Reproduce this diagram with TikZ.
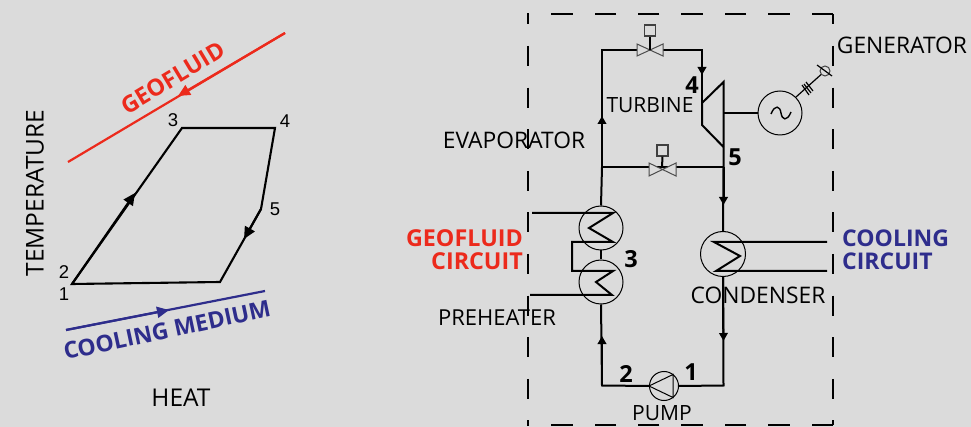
\documentclass[tikz,border=0pt]{standalone}
\usepackage{fontspec}
\setmainfont{Open Sans}
\newfontfamily\numfont{Liberation Sans}
\usetikzlibrary{arrows.meta}
\definecolor{bg}{HTML}{DBDBDB}
\definecolor{geored}{HTML}{EC2A1C}
\definecolor{coolblue}{HTML}{2E2D8C}
\tikzset{
  lbl/.style={inner sep=0pt,font=\fontsize{22.8}{23}\selectfont,text=black},
  lblbig/.style={inner sep=0pt,font=\fontsize{24.5}{25}\selectfont,text=black},
  num/.style={inner sep=0pt,font=\fontsize{18.5}{19}\selectfont\numfont,text=black},
  bnum/.style={inner sep=0pt,font=\fontsize{23.5}{24}\selectfont\bfseries,text=black},
  redt/.style={inner sep=0pt,font=\fontsize{23.3}{24}\selectfont\bfseries,text=geored},
  bluet/.style={inner sep=0pt,font=\fontsize{23}{24}\selectfont\bfseries,text=coolblue},
  cyc/.style={line width=2.1pt,line join=miter},
  pipe/.style={line width=2pt},
  thin1/.style={line width=1.2pt},
  hx/.style={circle,draw=black,line width=1pt,minimum size=44pt,inner sep=0pt,fill=bg},
  tip/.style={-{Triangle[length=8pt,width=8.5pt]}},
  bigtip/.style={-{Triangle[length=12pt,width=11pt]}},
  boxd/.style={line width=1.8pt},
  vbox/.style={draw=black!75,line width=1.1pt,minimum size=11pt,inner sep=0pt,fill=bg},
  vtri/.style={draw=black!70,line width=1pt,fill=bg},
}
\begin{document}
\begin{tikzpicture}[x=1pt,y=-1pt]
\fill[bg] (0,0) rectangle (971,427);
\useasboundingbox (0,0) rectangle (971,427);

% --- T-Q diagram
\coordinate (c1) at (72,284);
\coordinate (c3) at (182,128);
\coordinate (c4) at (275,128);
\coordinate (c5) at (261,209);
\coordinate (c6) at (220,282);
\coordinate (ca) at (135,193);
\coordinate (cb) at (244,239);
\draw[cyc] (c1) -- (c3) -- (c4) -- (c5) -- (c6) -- cycle;
\draw[cyc,bigtip] (c1) -- (ca);
\draw[cyc,bigtip] (c5) -- (cb);
\coordinate (r1) at (285,33);
\coordinate (r2) at (68,162);
\coordinate (ra) at (178,96);
\draw[line width=2.2pt,geored] (r1) -- (r2);
\draw[line width=2.2pt,geored,bigtip] (r1) -- (ra);
\coordinate (b1) at (66,330);
\coordinate (b2) at (265,291);
\coordinate (ba) at (169,310);
\draw[line width=2.2pt,coolblue] (b1) -- (b2);
\draw[line width=2.2pt,coolblue,bigtip] (b1) -- (ba);
\node[redt,rotate=31] (lgeo) at (173,78) {GEOFLUID};
\node[bluet,rotate=12] (lcm) at (167,330) {COOLING MEDIUM};
\node[lblbig,rotate=90] (ltemp) at (35,193) {TEMPERATURE};
\node[lblbig] (lheat) at (181,398) {HEAT};
\node[num] (n3) at (173,120) {3};
\node[num] (n4) at (285,121) {4};
\node[num] (n5) at (275,209) {5};
\node[num] (n2) at (64,272) {2};
\node[num] (n1) at (64,294) {1};

% --- dashed system boundary
\draw[boxd,dash pattern=on 21.5pt off 21.9pt] (833,14) -- (527,14);
\draw[boxd] (833,14) -- (833,24);
\draw[boxd,dash pattern=on 20pt off 21.6pt] (833,46) -- (833,425);
\draw[boxd,dash pattern=on 21.5pt off 21.9pt] (833,425) -- (527,425);
\draw[boxd,dash pattern=on 20pt off 21.6pt] (528,46) -- (528,425);
\draw[boxd] (528,14) -- (528,24);

% --- components
\node[hx] (evap) at (601,228) {};
\node[hx] (preh) at (601,282) {};
\node[hx,minimum size=45pt] (cond) at (723,254) {};
\node[hx] (gen) at (780,113) {};
\node[hx,minimum size=29pt] (pump) at (664,386) {};
\node[vbox] (box1) at (650,30.5) {};
\node[vbox] (box2) at (662.5,150.5) {};
\coordinate (v1) at (650,50);
\coordinate (v2) at (662,167);
\coordinate (tl) at (702,103);
\coordinate (tb) at (702,125);
\coordinate (tr) at (723.5,82);
\coordinate (tq) at (723.5,147);
\coordinate (ptl) at (602,50);
\coordinate (ptr) at (702,50);
\coordinate (pj1) at (602,167);
\coordinate (pj2) at (723.5,167);
\coordinate (pbl) at (602,385.5);
\coordinate (pbr) at (723.5,385.5);
\coordinate (a1) at (702,75);
\coordinate (a2) at (602,116);
\coordinate (a3) at (723.5,205);
\coordinate (a4) at (723.5,341);
\coordinate (a5) at (602,336);

% pipes
\draw[pipe] (pj1) -- (ptl) -- (ptr) -- (tl);
\draw[pipe,tip] (ptr) -- (a1);
\draw[pipe,tip] (pj1) -- (a2);
\draw[pipe] (pj1) -- (pj2);
\draw[pipe] (evap.north) -- (pj1);
\draw[pipe] (tq) -- (pj2) -- (cond.north);
\draw[pipe,tip] (pj2) -- (a3);
\draw[pipe] (cond.south) -- (pbr) -- (pump.east);
\draw[pipe,tip] (cond.south) -- (a4);
\draw[pipe] (pump.west) -- (pbl) -- (preh.south);
\draw[pipe,tip] (pbl) -- (a5);
\draw[pipe] (evap.south) -- (preh.north);
% valves
\draw[vtri] (637,44) -- (663,56) -- (663,44) -- (637,56) -- cycle;
\draw[vtri] (649,163) -- (676,176) -- (676,163) -- (649,176) -- cycle;
\draw[pipe] (box1.south) -- (v1);
\draw[pipe] (box2.south) -- (v2);
% turbine
\draw[pipe,line join=miter] (tq) -- (tr) -- (tl) -- (tb) -- (tq);
\draw[thin1] (tr |- gen) -- (gen.west);
% generator
\draw[line width=1.4pt] (771,114) .. controls (775,104) and (780,106) .. (781,113) .. controls (782,120) and (787,122) .. (791,112);
\node[circle,draw=black!75,line width=1pt,minimum size=10pt,inner sep=0pt,fill=bg] (term) at (825,71) {};
\draw[thin1] (gen.45) -- (term);
\draw[thin1] (817,65) -- (832,76);
\draw[thin1] (802,85) -- (809,95);
\draw[thin1] (804,84) -- (811,93);
\draw[thin1] (806,82) -- (813,91);
% heat exchanger coils
\coordinate (g1) at (532,213);
\coordinate (g2) at (530,295);
\coordinate (k1) at (827,242);
\coordinate (k2) at (827,271);
\draw[pipe,line join=miter] (g1) -- (613,213) -- (589,228) -- (613,242) -- (572,242) -- (572,271) -- (613,271) -- (596,282) -- (612,295) -- (g2);
\draw[pipe,line join=miter] (k1) -- (714,242) -- (740,256) -- (716,271) -- (k2);
% pump triangle
\draw[line width=1pt] (pump.west) -- (673,374.5) -- (673,397.5) -- cycle;

% labels
\node[lbl] (lturb) at (650,105) {\fontsize{21}{21}\selectfont TURBINE};
\node[lbl] (levap) at (514,140) {EVAPORATOR};
\node[lbl] (lgen) at (902,45) {GENERATOR};
\node[lbl] (lpre) at (497,318) {\fontsize{22}{22}\selectfont PREHEATER};
\node[lbl] (lcon) at (758,295) {CONDENSER};
\node[lbl] (lpump) at (662,413) {\fontsize{21}{21}\selectfont PUMP};
\node[redt,anchor=east] (lg1) at (523,238) {GEOFLUID};
\node[redt,anchor=east] (lg2) at (523,261) {CIRCUIT};
\node[bluet,anchor=west] (lc1) at (842,238) {COOLING};
\node[bluet,anchor=west] (lc2) at (842,261) {CIRCUIT};
\node[bnum] (b4) at (692,85) {4};
\node[bnum] (b5) at (735,157) {5};
\node[bnum] (b3) at (631,259) {3};
\node[bnum] (b2n) at (626,374) {2};
\node[bnum] (b1n) at (691,372) {1};
\end{tikzpicture}
\end{document}
